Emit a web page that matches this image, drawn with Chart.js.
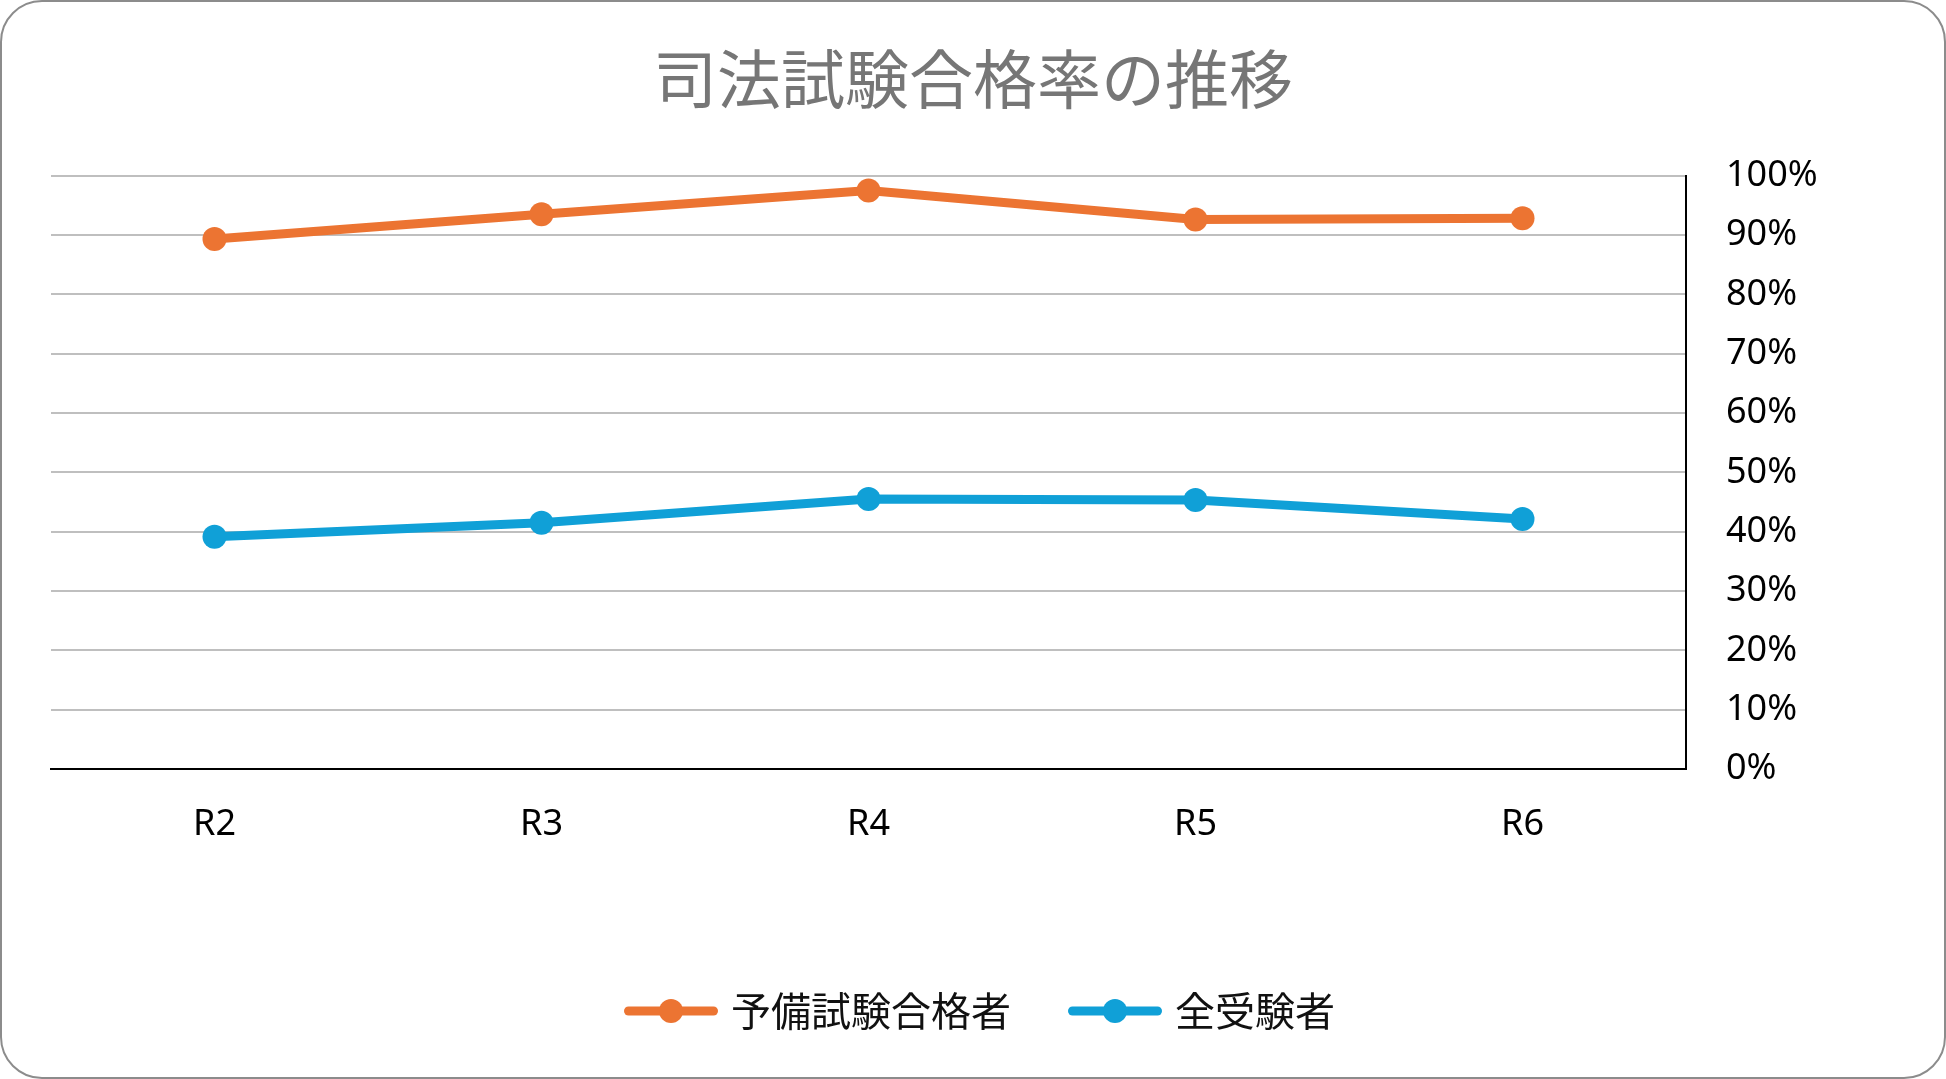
<!DOCTYPE html>
<html lang="ja">
<head>
<meta charset="utf-8">
<title>司法試験合格率の推移</title>
<script src="https://cdn.jsdelivr.net/npm/chart.js@4.4.1/dist/chart.umd.min.js"></script>
<style>
  body { margin: 0; background: #fff; }
  #wrap { position: relative; width: 1946px; height: 1079px; }
  #frame {
    position: absolute; left: 0; top: 0; right: 0; bottom: 0;
    box-sizing: border-box; border: 2px solid #8c8c8c; border-radius: 42px;
    pointer-events: none;
  }
</style>
</head>
<body>
<div id="wrap">
  <canvas id="chart" width="1946" height="1079"></canvas>
  <div id="frame"></div>
</div>
<script>
// 年度
var labels = ['R2', 'R3', 'R4', 'R5', 'R6'];
// 司法試験合格率 (%)
var yobiGoukaku = [89.36, 93.50, 97.53, 92.63, 92.84];
var zenJuken = [39.16, 41.50, 45.52, 45.34, 42.13];

var ORANGE = '#ec7432';
var BLUE = '#10a0d7';

Chart.defaults.font.family = '"Noto Sans", "Noto Sans CJK JP", sans-serif';

// 凡例のマーカー（線＋丸）
function legendIcon(color) {
    var c = document.createElement('canvas');
    c.width = 130;
    c.height = 30;
    var ctx = c.getContext('2d');
    ctx.strokeStyle = color;
    ctx.lineWidth = 9;
    ctx.lineCap = 'round';
    ctx.beginPath();
    ctx.moveTo(32.5, 15);
    ctx.lineTo(117.5, 15);
    ctx.stroke();
    ctx.fillStyle = color;
    ctx.beginPath();
    ctx.arc(75, 15, 12, 0, Math.PI * 2);
    ctx.fill();
    return c;
}
var icons = [legendIcon(ORANGE), legendIcon(BLUE)];

var ctx = document.getElementById('chart').getContext('2d');
var chart = new Chart(ctx, {
    type: 'line',
    data: {
        labels: labels,
        datasets: [
            {
                label: '予備試験合格者',
                data: yobiGoukaku,
                borderColor: ORANGE,
                backgroundColor: ORANGE,
                pointBackgroundColor: ORANGE,
                borderWidth: 9,
                pointRadius: 12,
                pointBorderWidth: 0,
                tension: 0,
                yAxisID: 'y'
            },
            {
                label: '全受験者',
                data: zenJuken,
                borderColor: BLUE,
                backgroundColor: BLUE,
                pointBackgroundColor: BLUE,
                borderWidth: 9,
                pointRadius: 12,
                pointBorderWidth: 0,
                tension: 0,
                yAxisID: 'y'
            }
        ]
    },
    options: {
        responsive: false,
        animation: false,
        layout: { padding: { top: 0, left: 0, right: 0, bottom: 38 } },
        plugins: {
            title: {
                display: true,
                text: '司法試験合格率の推移',
                color: '#767676',
                font: { family: '"Noto Sans CJK JP", sans-serif', size: 64, weight: 'normal' },
                padding: { top: 40, bottom: 59 }
            },
            legend: {
                position: 'bottom',
                labels: {
                    usePointStyle: true,
                    pointStyleWidth: 100,
                    padding: 44,
                    color: '#111',
                    font: { family: '"Noto Sans CJK JP", sans-serif', size: 40 },
                    generateLabels: function (chart) {
                        var items = Chart.defaults.plugins.legend.labels.generateLabels(chart);
                        items.forEach(function (it, i) { it.pointStyle = icons[i]; });
                        return items;
                    }
                }
            },
            tooltip: { enabled: false }
        },
        scales: {
            x: {
                offset: true,
                grid: { display: false, offset: true },
                border: { display: true, color: '#000', width: 2 },
                ticks: { color: '#000', font: { size: 36 }, padding: 26 },
                afterFit: function (s) { s.height = 178; }
            },
            yLeft: {
                position: 'left',
                grid: { display: false },
                border: { display: false },
                ticks: { display: false },
                afterFit: function (s) { s.width = 51; }
            },
            y: {
                position: 'right',
                min: 0,
                max: 100,
                ticks: {
                    stepSize: 10,
                    color: '#000',
                    font: { size: 36 },
                    padding: 40,
                    callback: function (v) { return v + '%'; }
                },
                grid: { color: '#bfbfbf', lineWidth: 2, drawTicks: false },
                border: { display: true, color: '#000', width: 2 },
                afterFit: function (s) { s.width = 260; }
            }
        }
    }
});
</script>
</body>
</html>
